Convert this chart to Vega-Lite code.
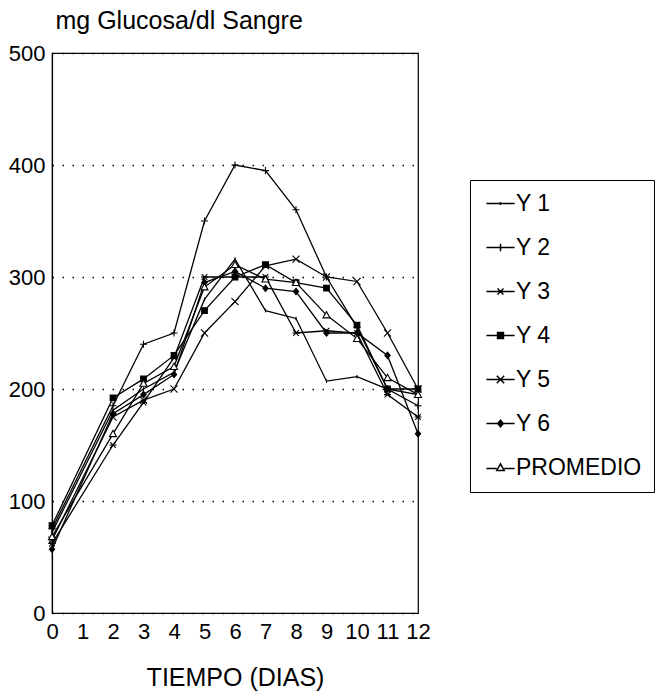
{
  "$schema": "https://vega.github.io/schema/vega-lite/v6.json",
  "autosize": "none",
  "width": 366,
  "height": 560,
  "padding": {"left": 52, "top": 53, "right": 248, "bottom": 81},
  "background": "white",
  "config": {
    "view": {"stroke": "black", "strokeWidth": 1.2},
    "axis": {"labelFont": "Liberation Sans", "labelFontSize": 22, "labelColor": "black", "titleFont": "Liberation Sans", "titleFontSize": 25, "titleFontWeight": "normal", "titleColor": "black", "domainColor": "black", "domainWidth": 1.2, "tickColor": "black"}
  },
  "data": {"values": [
    {"dia": 0, "serie": "Y 1", "valor": 72}, {"dia": 2, "serie": "Y 1", "valor": 181}, {"dia": 3, "serie": "Y 1", "valor": 200}, {"dia": 4, "serie": "Y 1", "valor": 215}, {"dia": 5, "serie": "Y 1", "valor": 280}, {"dia": 6, "serie": "Y 1", "valor": 316}, {"dia": 7, "serie": "Y 1", "valor": 270}, {"dia": 8, "serie": "Y 1", "valor": 263}, {"dia": 9, "serie": "Y 1", "valor": 207}, {"dia": 10, "serie": "Y 1", "valor": 211}, {"dia": 11, "serie": "Y 1", "valor": 200}, {"dia": 12, "serie": "Y 1", "valor": 195},
    {"dia": 0, "serie": "Y 2", "valor": 75}, {"dia": 2, "serie": "Y 2", "valor": 185}, {"dia": 3, "serie": "Y 2", "valor": 240}, {"dia": 4, "serie": "Y 2", "valor": 250}, {"dia": 5, "serie": "Y 2", "valor": 350}, {"dia": 6, "serie": "Y 2", "valor": 400}, {"dia": 7, "serie": "Y 2", "valor": 395}, {"dia": 8, "serie": "Y 2", "valor": 360}, {"dia": 9, "serie": "Y 2", "valor": 300}, {"dia": 10, "serie": "Y 2", "valor": 255}, {"dia": 11, "serie": "Y 2", "valor": 200}, {"dia": 12, "serie": "Y 2", "valor": 185},
    {"dia": 0, "serie": "Y 3", "valor": 62}, {"dia": 2, "serie": "Y 3", "valor": 150}, {"dia": 3, "serie": "Y 3", "valor": 188}, {"dia": 4, "serie": "Y 3", "valor": 228}, {"dia": 5, "serie": "Y 3", "valor": 300}, {"dia": 6, "serie": "Y 3", "valor": 300}, {"dia": 7, "serie": "Y 3", "valor": 300}, {"dia": 8, "serie": "Y 3", "valor": 250}, {"dia": 9, "serie": "Y 3", "valor": 252}, {"dia": 10, "serie": "Y 3", "valor": 250}, {"dia": 11, "serie": "Y 3", "valor": 195}, {"dia": 12, "serie": "Y 3", "valor": 175},
    {"dia": 0, "serie": "Y 4", "valor": 78}, {"dia": 2, "serie": "Y 4", "valor": 192}, {"dia": 3, "serie": "Y 4", "valor": 209}, {"dia": 4, "serie": "Y 4", "valor": 230}, {"dia": 5, "serie": "Y 4", "valor": 270}, {"dia": 6, "serie": "Y 4", "valor": 300}, {"dia": 7, "serie": "Y 4", "valor": 311}, {"dia": 8, "serie": "Y 4", "valor": 295}, {"dia": 9, "serie": "Y 4", "valor": 290}, {"dia": 10, "serie": "Y 4", "valor": 257}, {"dia": 11, "serie": "Y 4", "valor": 200}, {"dia": 12, "serie": "Y 4", "valor": 200},
    {"dia": 0, "serie": "Y 5", "valor": 65}, {"dia": 2, "serie": "Y 5", "valor": 175}, {"dia": 3, "serie": "Y 5", "valor": 190}, {"dia": 4, "serie": "Y 5", "valor": 200}, {"dia": 5, "serie": "Y 5", "valor": 250}, {"dia": 6, "serie": "Y 5", "valor": 278}, {"dia": 7, "serie": "Y 5", "valor": 310}, {"dia": 8, "serie": "Y 5", "valor": 316}, {"dia": 9, "serie": "Y 5", "valor": 300}, {"dia": 10, "serie": "Y 5", "valor": 296}, {"dia": 11, "serie": "Y 5", "valor": 250}, {"dia": 12, "serie": "Y 5", "valor": 200},
    {"dia": 0, "serie": "Y 6", "valor": 57}, {"dia": 2, "serie": "Y 6", "valor": 178}, {"dia": 3, "serie": "Y 6", "valor": 195}, {"dia": 4, "serie": "Y 6", "valor": 213}, {"dia": 5, "serie": "Y 6", "valor": 295}, {"dia": 6, "serie": "Y 6", "valor": 305}, {"dia": 7, "serie": "Y 6", "valor": 290}, {"dia": 8, "serie": "Y 6", "valor": 287}, {"dia": 9, "serie": "Y 6", "valor": 250}, {"dia": 10, "serie": "Y 6", "valor": 250}, {"dia": 11, "serie": "Y 6", "valor": 230}, {"dia": 12, "serie": "Y 6", "valor": 160},
    {"dia": 0, "serie": "PROMEDIO", "valor": 68}, {"dia": 2, "serie": "PROMEDIO", "valor": 160}, {"dia": 3, "serie": "PROMEDIO", "valor": 205}, {"dia": 4, "serie": "PROMEDIO", "valor": 220}, {"dia": 5, "serie": "PROMEDIO", "valor": 291}, {"dia": 6, "serie": "PROMEDIO", "valor": 311}, {"dia": 7, "serie": "PROMEDIO", "valor": 298}, {"dia": 8, "serie": "PROMEDIO", "valor": 295}, {"dia": 9, "serie": "PROMEDIO", "valor": 266}, {"dia": 10, "serie": "PROMEDIO", "valor": 245}, {"dia": 11, "serie": "PROMEDIO", "valor": 210}, {"dia": 12, "serie": "PROMEDIO", "valor": 195}
  ]},
  "encoding": {
    "x": {"field": "dia", "type": "quantitative", "scale": {"domain": [0, 12], "nice": false, "zero": false},
      "axis": {"title": "TIEMPO (DIAS)", "values": [0,1,2,3,4,5,6,7,8,9,10,11,12], "grid": false, "ticks": false, "labelPadding": 8, "titlePadding": 23, "labelFlush": false, "labelOverlap": false}},
    "y": {"field": "valor", "type": "quantitative", "scale": {"domain": [0, 500], "nice": false},
      "axis": {"title": "mg Glucosa/dl Sangre", "titleAngle": 0, "titleAlign": "left", "titleBaseline": "alphabetic", "titleX": 3, "titleY": -25, "titleFontSize": 25,
        "values": [0,100,200,300,400,500], "ticks": false, "labelPadding": 7, "grid": true, "gridColor": "black", "gridDash": [1.5, 8.5], "gridWidth": 1.5, "labelFlush": false}}
  },
  "resolve": {"scale": {"shape": "independent"}, "legend": {"shape": "independent"}},
  "layer": [
    {"mark": {"type": "line", "color": "black", "strokeWidth": 1.3},
     "encoding": {"detail": {"field": "serie"}}},
    {"mark": {"type": "point", "filled": true, "stroke": "black", "strokeWidth": 1.1, "size": 50, "opacity": 1},
     "encoding": {
       "shape": {"field": "serie", "type": "nominal",
         "scale": {"domain": ["Y 1", "Y 2", "Y 3", "Y 4", "Y 5", "Y 6", "PROMEDIO"],
           "range": ["M0,-0.5V0.5", "M-1,0H1M0,-1V1", "M-1,0H1M-0.8,-0.8L0.8,0.8M-0.8,0.8L0.8,-0.8", "M-0.8,-0.8H0.8V0.8H-0.8Z", "M-1,-1L1,1M-1,1L1,-1", "M0,-0.9L0.75,0L0,0.9L-0.75,0Z", "M0,-1L1,0.8H-1Z"]},
         "legend": null},
       "fill": {"field": "serie", "type": "nominal",
         "scale": {"domain": ["Y 1", "Y 2", "Y 3", "Y 4", "Y 5", "Y 6", "PROMEDIO"],
           "range": ["black", "black", "black", "black", "black", "black", "white"]},
         "legend": null}
     }},
    {"transform": [{"filter": "datum.dia < 0"}],
     "mark": {"type": "point", "filled": false, "color": "black", "strokeWidth": 1.1, "size": 50, "opacity": 1},
     "encoding": {
       "shape": {"field": "serie", "type": "nominal",
         "scale": {"domain": ["Y 1", "Y 2", "Y 3", "Y 4", "Y 5", "Y 6", "PROMEDIO"],
           "range": [
             "M-3.8,0H3.8M0,-0.4V0.4",
             "M-3.8,0H3.8M0,-1V1",
             "M-3.8,0H3.8M-0.8,-0.8L0.8,0.8M-0.8,0.8L0.8,-0.8",
             "M-3.8,0H3.8M-0.8,-0.8H0.8V0.8H-0.8ZM-0.8,-0.4H0.8M-0.8,0.4H0.8",
             "M-3.8,0H3.8M-1,-1L1,1M-1,1L1,-1",
             "M-3.8,0H3.8M0,-0.9L0.75,0L0,0.9L-0.75,0ZM-0.45,-0.35H0.45M-0.45,0.35H0.45M0,-0.9V0.9",
             "M-3.8,0.3H-1M1,0.3H3.8M0,-1L1,0.8H-1Z"]},
         "legend": {"title": null, "orient": "none", "legendX": 418, "legendY": 127,
           "strokeColor": "black", "fillColor": "white", "padding": 12,
           "labelFont": "Liberation Sans", "labelFontSize": 23, "labelColor": "black",
           "symbolSize": 55, "rowPadding": 20, "labelOffset": 4, "symbolOffset": 7}}
     }}
  ]
}
